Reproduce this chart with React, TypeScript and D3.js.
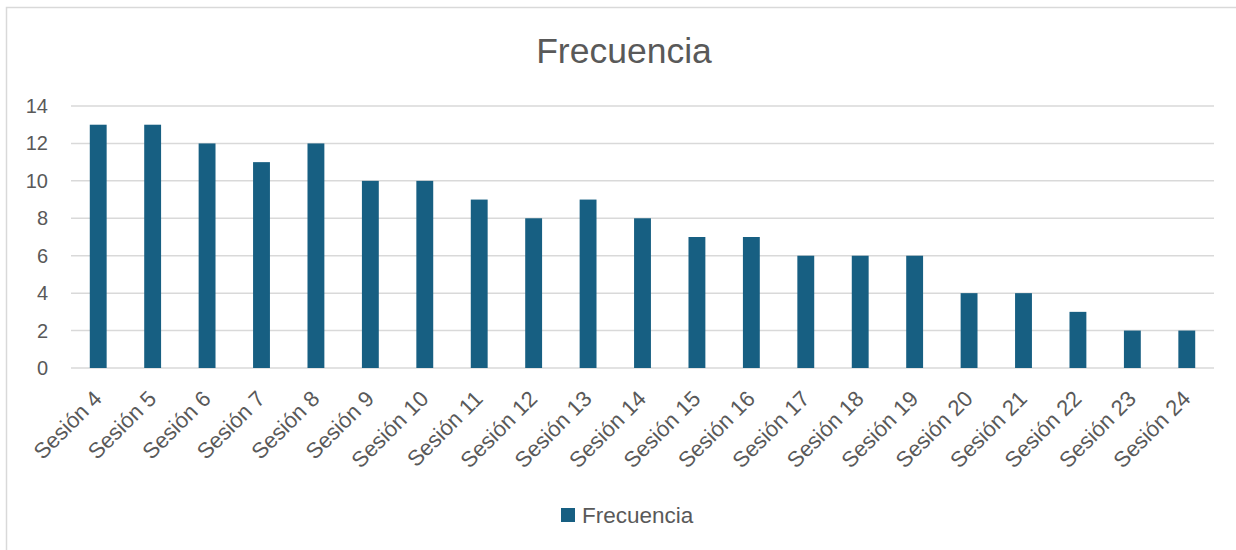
import React, { useEffect, useRef } from 'react'
import * as d3 from 'd3'

const categories = [
  'Sesión 4', 'Sesión 5', 'Sesión 6', 'Sesión 7', 'Sesión 8', 'Sesión 9', 'Sesión 10',
  'Sesión 11', 'Sesión 12', 'Sesión 13', 'Sesión 14', 'Sesión 15', 'Sesión 16', 'Sesión 17',
  'Sesión 18', 'Sesión 19', 'Sesión 20', 'Sesión 21', 'Sesión 22', 'Sesión 23', 'Sesión 24',
]
const frecuencia = [13, 13, 12, 11, 12, 10, 10, 9, 8, 9, 8, 7, 7, 6, 6, 6, 4, 4, 3, 2, 2]
const yTicks = [0, 2, 4, 6, 8, 10, 12, 14]

const W = 1236
const H = 550
const BAR = '#175f82'
const TXT = '#595959'
const GRID = '#d9d9d9'
const FONT = '"Liberation Sans", Arial, sans-serif'

const App: React.FC = () => {
  const svgRef = useRef<SVGSVGElement>(null)

  useEffect(() => {
    if (!svgRef.current) return
    const svg = d3.select(svgRef.current)
    svg.selectAll('*').remove()

    const margin = { top: 106, right: 22, bottom: 182, left: 71 }
    const width = W - margin.left - margin.right
    const height = H - margin.top - margin.bottom

    // chart frame (only top and left edges show)
    svg.append('rect')
      .attr('x', 6.5).attr('y', 7.5)
      .attr('width', W + 10).attr('height', H + 10)
      .attr('fill', 'white').attr('stroke', GRID).attr('stroke-width', 1.5)

    svg.append('text')
      .attr('x', 624).attr('y', 63)
      .attr('text-anchor', 'middle')
      .attr('font-family', FONT).attr('font-size', 35.5)
      .attr('fill', TXT)
      .text('Frecuencia')

    const g = svg.append('g').attr('transform', `translate(${margin.left},${margin.top})`)

    const x = d3.scaleBand<string>().domain(categories).range([0, width]).paddingInner(0.69).paddingOuter(0.345)
    const y = d3.scaleLinear().domain([0, 14]).range([height, 0])

    g.append('g')
      .selectAll('line')
      .data(yTicks)
      .join('line')
      .attr('x1', 0).attr('x2', width)
      .attr('y1', d => y(d)).attr('y2', d => y(d))
      .attr('stroke', GRID).attr('stroke-width', 1.5)

    g.append('g')
      .selectAll('text')
      .data(yTicks)
      .join('text')
      .attr('x', -23).attr('y', d => y(d))
      .attr('dy', '0.35em')
      .attr('text-anchor', 'end')
      .attr('font-family', FONT).attr('font-size', 20)
      .attr('fill', TXT)
      .text(d => d)

    g.append('g')
      .selectAll('rect')
      .data(frecuencia)
      .join('rect')
      .attr('x', (d, i) => x(categories[i])!)
      .attr('y', d => y(d))
      .attr('width', x.bandwidth())
      .attr('height', d => height - y(d))
      .attr('fill', BAR)

    g.append('g')
      .selectAll('text')
      .data(categories)
      .join('text')
      .attr('transform', d => `translate(${x(d)! + x.bandwidth() / 2 + 5},${height + 32}) rotate(-45)`)
      .attr('text-anchor', 'end')
      .attr('font-family', FONT).attr('font-size', 22)
      .attr('fill', TXT)
      .text(d => d)

    // legend
    const lg = svg.append('g').attr('transform', 'translate(561,508)')
    lg.append('rect').attr('width', 14).attr('height', 14).attr('fill', BAR)
    lg.append('text')
      .attr('x', 21).attr('y', 7).attr('dy', '0.35em')
      .attr('font-family', FONT).attr('font-size', 22.5)
      .attr('fill', TXT)
      .text('Frecuencia')
  }, [])

  return (
    <svg ref={svgRef} width={W} height={H}
      style={{ position: 'absolute', left: 0, top: 0, display: 'block', background: 'white' }} />
  )
}

export default App
